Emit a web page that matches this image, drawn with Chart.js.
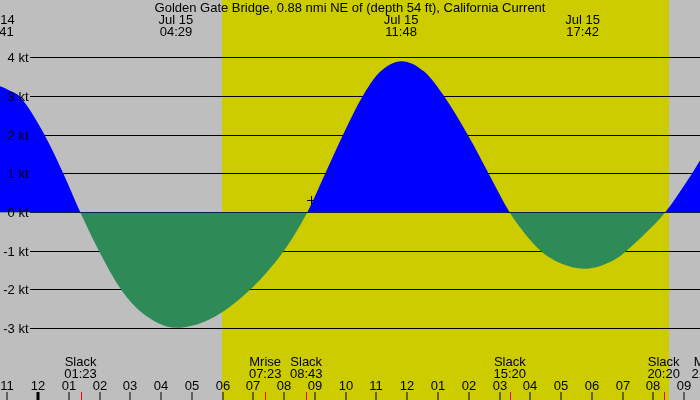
<!DOCTYPE html>
<html>
<head>
<meta charset="utf-8">
<script src="https://cdn.jsdelivr.net/npm/chart.js@4/dist/chart.umd.min.js"></script>
<style>
html,body{margin:0;padding:0;background:#bebebe;}
#c{display:block;}
</style>
</head>
<body>
<canvas id="c" width="700" height="400"></canvas>
<script>
// ---- data (hours relative to midnight Jul 15) ----
const hours = [-2.0, -1.317, -0.87, -0.60, 0.215, 0.826, 1.378, 1.986, 2.71, 3.41, 4.49, 5.58, 6.88, 7.98, 8.75, 9.33, 9.91, 10.55, 11.10, 11.82, 12.55, 13.20, 13.97, 14.65, 15.33, 15.80, 16.35, 16.60, 17.00, 17.40, 17.73, 18.10, 18.50, 18.85, 19.08, 19.75, 20.38, 21.25, 21.52, 22.0];
const knots = [3.0, 3.27, 3.13, 3.0, 2.0, 1.0, 0.0, -1.0, -2.0, -2.61, -2.98, -2.76, -2.0, -1.0, 0.0, 1.0, 2.0, 3.0, 3.62, 3.91, 3.64, 3.0, 2.0, 1.0, 0.0, -0.52, -1.0, -1.15, -1.32, -1.42, -1.45, -1.42, -1.31, -1.16, -1.02, -0.53, 0.0, 1.0, 1.35, 1.9];

const yTicks = [4, 3, 2, 1, 0, -1, -2, -3];
const yTickLabels = ['4 kt', '3 kt', '2 kt', '1 kt', '0 kt', '-1 kt', '-2 kt', '-3 kt'];

const hourTicks = [-1, 0, 1, 2, 3, 4, 5, 6, 7, 8, 9, 10, 11, 12, 13, 14, 15, 16, 17, 18, 19, 20, 21];
const hourLabels = ['11', '12', '01', '02', '03', '04', '05', '06', '07', '08', '09', '10', '11', '12', '01', '02', '03', '04', '05', '06', '07', '08', '09'];
const midnightTicks = [0];

const extremeTimes = [-1.317, 4.483, 11.80, 17.70];
const extremeDates = ['Jul 14', 'Jul 15', 'Jul 15', 'Jul 15'];
const extremeClock = ['22:41', '04:29', '11:48', '17:42'];

const eventTimes = [1.383, 7.383, 8.717, 15.333, 20.333, 21.767];
const eventNames = ['Slack', 'Mrise', 'Slack', 'Slack', 'Slack', 'Mset'];
const eventClock = ['01:23', '07:23', '08:43', '15:20', '20:20', '21:46'];

const sunrise = 5.98;
const sunset = 20.52;

const nowTime = [8.89];
const nowValue = [0.31];

const title = 'Golden Gate Bridge, 0.88 nmi NE of (depth 54 ft), California Current';

// ---- colours / layout ----
const NIGHT = '#bebebe';
const DAY = '#cccc00';
const FLOOD = '#0000ff';
const EBB = '#2e8b57';
const FONT = '13px "Liberation Sans", Arial, sans-serif';

const decor = {
  id: 'decor',
  beforeDraw(chart) {
    const {ctx, scales: {x}} = chart;
    ctx.save();
    ctx.fillStyle = NIGHT;
    ctx.fillRect(0, 0, chart.width, chart.height);
    const x0 = Math.round(x.getPixelForValue(sunrise));
    const x1 = Math.round(x.getPixelForValue(sunset));
    ctx.fillStyle = DAY;
    ctx.fillRect(x0, 0, x1 - x0, chart.height);
    ctx.restore();
  },
  beforeDatasetsDraw(chart) {
    const {ctx, scales: {y}} = chart;
    ctx.save();
    ctx.strokeStyle = '#000';
    ctx.lineWidth = 1;
    yTicks.forEach(v => {
      const py = Math.floor(y.getPixelForValue(v)) + 0.5;
      ctx.beginPath();
      ctx.moveTo(30, py);
      ctx.lineTo(chart.width, py);
      ctx.stroke();
    });
    ctx.restore();
  },
  afterDatasetsDraw(chart) {
    const {ctx, scales: {x, y}} = chart;
    ctx.save();
    ctx.font = FONT;
    ctx.fillStyle = '#000';
    // y labels
    ctx.textAlign = 'right';
    ctx.textBaseline = 'alphabetic';
    yTicks.forEach((v, i) => {
      const py = Math.floor(y.getPixelForValue(v));
      ctx.fillText(yTickLabels[i], 28.5, py + 5);
    });
    // title
    ctx.textAlign = 'center';
    ctx.fillText(title, chart.width / 2, 12);
    // extremes
    extremeTimes.forEach((t, i) => {
      const px = x.getPixelForValue(t);
      ctx.fillText(extremeDates[i], px, 24);
      ctx.fillText(extremeClock[i], px, 36);
    });
    // events
    eventTimes.forEach((t, i) => {
      const px = x.getPixelForValue(t);
      ctx.fillText(eventNames[i], px, 366);
      ctx.fillText(eventClock[i], px, 378);
    });
    // hour labels and ticks
    hourTicks.forEach((t, i) => {
      const px = Math.round(x.getPixelForValue(t));
      ctx.fillText(hourLabels[i], px, 390);
      ctx.fillRect(px - 0.5, 392, 1, 8);
    });
    midnightTicks.forEach(t => {
      const px = Math.round(x.getPixelForValue(t));
      ctx.fillRect(px - 1.5, 392, 3, 8);
    });
    // event ticks
    ctx.fillStyle = '#ff0000';
    eventTimes.forEach(t => {
      const px = Math.round(x.getPixelForValue(t));
      ctx.fillRect(px, 392, 1, 8);
    });
    ctx.restore();
  }
};

new Chart(document.getElementById('c'), {
  type: 'line',
  data: {
    datasets: [
      {
        data: hours.map((h, i) => ({x: h, y: knots[i]})),
        fill: {target: 'origin', above: FLOOD, below: EBB},
        borderWidth: 0,
        borderColor: 'rgba(0,0,0,0)',
        pointRadius: 0,
        cubicInterpolationMode: 'monotone'
      },
      {
        data: nowTime.map((t, i) => ({x: t, y: nowValue[i]})),
        showLine: false,
        fill: false,
        pointStyle: 'cross',
        pointRadius: 4.5,
        borderColor: '#000',
        backgroundColor: '#000',
        borderWidth: 1
      }
    ]
  },
  options: {
    responsive: false,
    animation: false,
    layout: {padding: 0, autoPadding: false},
    scales: {
      x: {type: 'linear', min: -38 / 30.77, max: 662 / 30.77, display: false},
      y: {type: 'linear', min: -187.5 / 38.71, max: 212.5 / 38.71, display: false}
    },
    plugins: {legend: {display: false}, tooltip: {enabled: false}, title: {display: false}}
  },
  plugins: [decor]
});
</script>
</body>
</html>
